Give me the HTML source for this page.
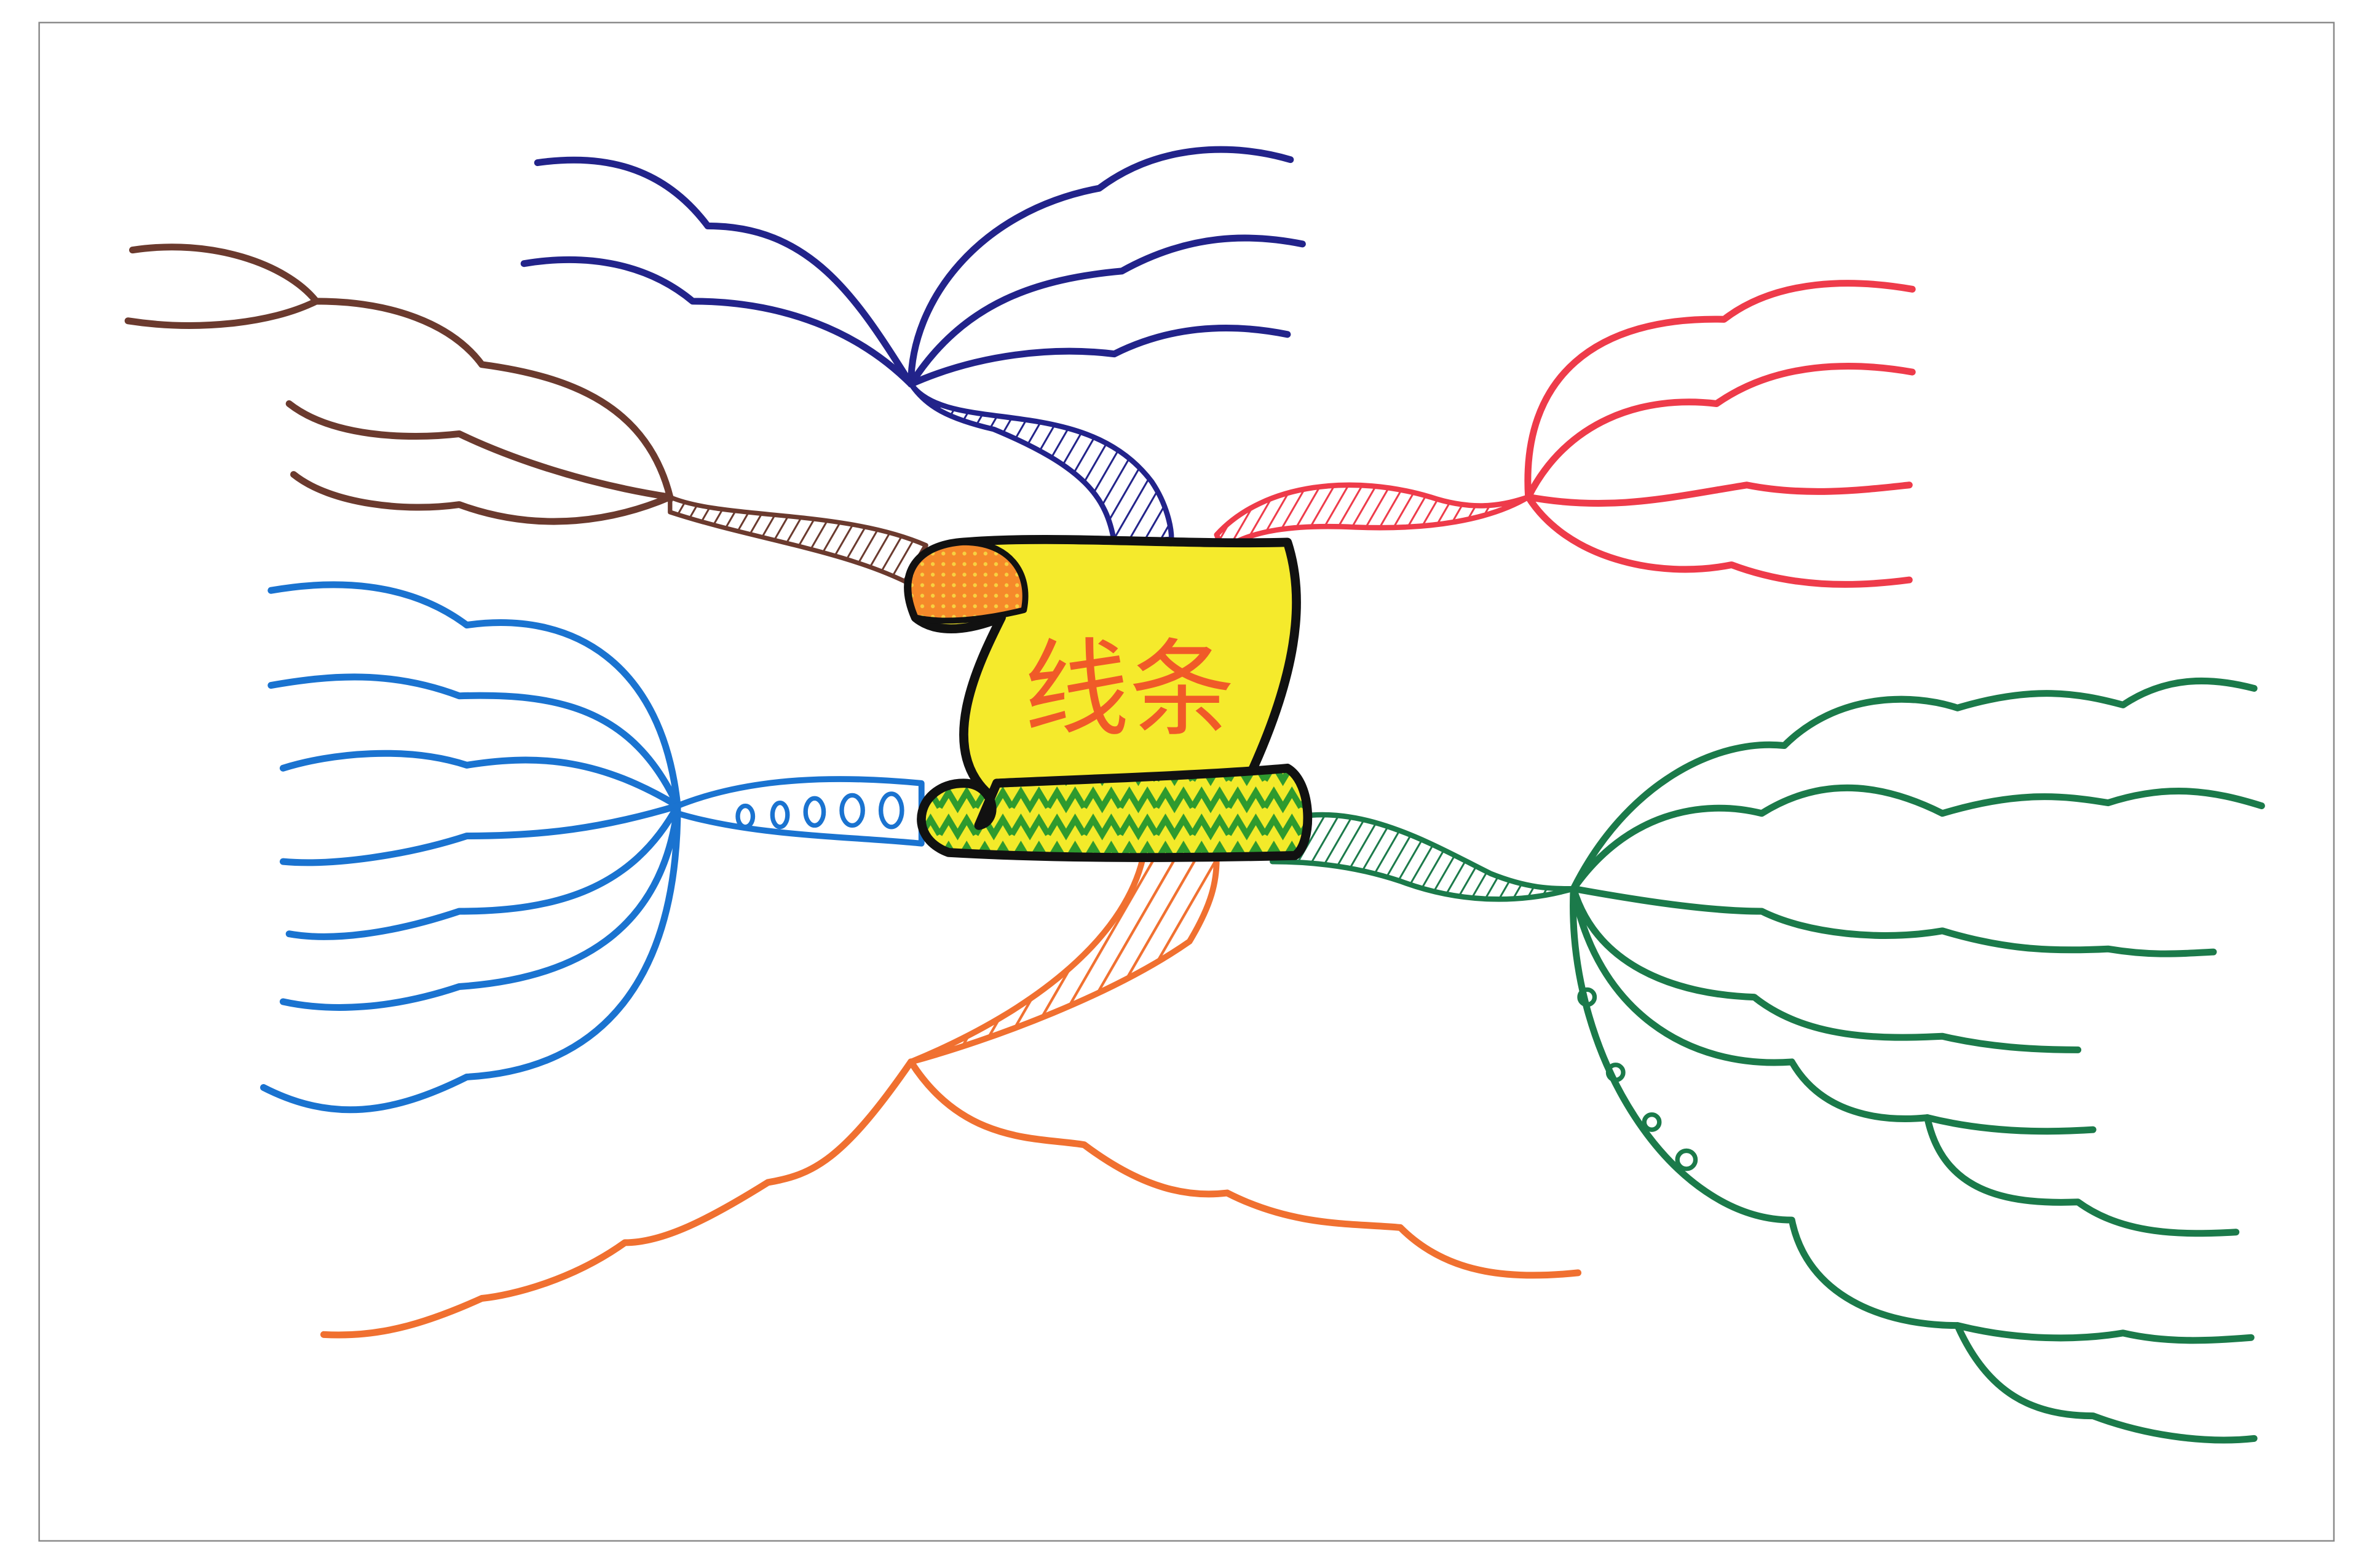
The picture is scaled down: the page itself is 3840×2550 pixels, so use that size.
<!DOCTYPE html>
<html><head><meta charset="utf-8"><style>
html,body{margin:0;padding:0;background:#fff;width:3840px;height:2550px;overflow:hidden}
svg{display:block}
</style></head><body>
<svg width="3840" height="2550" viewBox="0 0 1568 1041" preserveAspectRatio="none" xmlns="http://www.w3.org/2000/svg">
<defs>
<pattern id="hb" width="8" height="8" patternUnits="userSpaceOnUse" patternTransform="rotate(30)"><line x1="0" y1="0" x2="0" y2="8" stroke="#6b3a2e" stroke-width="2.5"/></pattern>
<pattern id="hn" width="9" height="9" patternUnits="userSpaceOnUse" patternTransform="rotate(30)"><line x1="0" y1="0" x2="0" y2="9" stroke="#22238a" stroke-width="2.5"/></pattern>
<pattern id="hr" width="8" height="8" patternUnits="userSpaceOnUse" patternTransform="rotate(30)"><line x1="0" y1="0" x2="0" y2="8" stroke="#ee3b4a" stroke-width="2.5"/></pattern>
<pattern id="hg" width="8" height="8" patternUnits="userSpaceOnUse" patternTransform="rotate(30)"><line x1="0" y1="0" x2="0" y2="8" stroke="#1b7a4a" stroke-width="2.5"/></pattern>
<pattern id="ho" width="12" height="12" patternUnits="userSpaceOnUse" patternTransform="rotate(30)"><line x1="0" y1="0" x2="0" y2="12" stroke="#f07030" stroke-width="3.5"/></pattern>
<pattern id="zig" width="24" height="18" patternUnits="userSpaceOnUse"><rect width="24" height="18" fill="#f3ea2a"/><path d="M0,14 L6,4 L12,14 L18,4 L24,14" fill="none" stroke="#2e9a2e" stroke-width="4"/></pattern>
<pattern id="dots" width="7" height="7" patternUnits="userSpaceOnUse"><rect width="7" height="7" fill="#f5892a"/><circle cx="3.5" cy="3.5" r="1.3" fill="#f7d040"/></pattern>
</defs>
<rect x="26" y="15" width="1524" height="1008" fill="#fff" stroke="#888" stroke-width="1"/>
<g fill="none" stroke-linecap="round" stroke-linejoin="round" stroke-width="4.5">
<g stroke="#6b3a2e">
<path d="M445,330 C480,345 560,338 615,362 L605,388 C560,365 500,358 445,340 Z" fill="url(#hb)" stroke-width="3"/>
<path d="M445,330 C430,270 380,250 320,242 C300,215 260,200 210,200 C180,215 130,220 85,213"/>
<path d="M210,200 C190,175 140,158 88,166"/>
<path d="M445,330 C380,320 330,300 305,288 C270,292 220,290 192,268"/>
<path d="M445,330 C410,345 360,355 305,335 C270,340 220,335 195,315"/>
</g>
<g stroke="#22238a">
<path d="M605,255 C630,290 720,260 765,320 C775,335 778,350 778,358 L740,360 C735,330 720,310 660,285 C630,278 615,270 605,255 Z" fill="url(#hn)" stroke-width="3.5"/>
<path d="M605,255 C605,200 650,140 730,125 C770,95 820,95 857,106"/>
<path d="M605,255 C640,200 690,185 745,180 C790,155 830,155 865,162"/>
<path d="M605,255 C650,235 700,230 740,235 C780,215 820,215 855,222"/>
<path d="M605,255 C570,200 540,150 470,150 C440,110 400,102 357,108"/>
<path d="M605,255 C570,220 520,200 460,200 C430,175 390,168 348,175"/>
</g>
<g stroke="#ee3b4a">
<path d="M808,355 C840,320 900,315 950,330 C980,340 1000,335 1015,330 C990,345 950,352 900,350 C860,348 830,352 812,365 Z" fill="url(#hr)" stroke-width="3.5"/>
<path d="M1015,330 C1010,250 1060,210 1145,212 C1180,185 1230,185 1270,192"/>
<path d="M1015,330 C1040,280 1090,262 1140,268 C1180,240 1230,240 1270,247"/>
<path d="M1015,330 C1070,340 1110,330 1160,322 C1200,330 1240,325 1268,322"/>
<path d="M1015,330 C1040,370 1100,385 1150,375 C1190,390 1230,390 1268,385"/>
</g>
<g stroke="#1a73d0">
<path d="M450,535 C500,515 560,515 612,520 L612,560 C560,555 500,555 450,540 Z" fill="#fff" stroke-width="4"/>
<g stroke-width="3"><ellipse cx="495" cy="542" rx="5" ry="7"/><ellipse cx="518" cy="541" rx="5" ry="8"/><ellipse cx="541" cy="539" rx="6" ry="9"/><ellipse cx="566" cy="538" rx="7" ry="10"/><ellipse cx="592" cy="538" rx="7" ry="11"/></g>
<path d="M450,535 C440,440 380,405 310,415 C270,385 220,385 180,392"/>
<path d="M450,535 C420,470 370,460 305,462 C260,445 220,448 180,455"/>
<path d="M450,535 C400,505 360,500 310,508 C270,495 220,500 188,510"/>
<path d="M450,535 C400,550 360,555 310,555 C270,568 220,575 188,572"/>
<path d="M450,535 C420,590 370,605 305,605 C260,620 220,625 192,620"/>
<path d="M450,535 C440,620 380,650 305,655 C260,670 220,672 188,665"/>
<path d="M450,535 C450,650 400,710 310,715 C260,740 220,745 175,722"/>
</g>
<g stroke="#1b7a4a">
<path d="M850,545 C900,530 950,560 990,580 C1015,590 1030,590 1045,590 C1010,600 970,600 930,585 C900,575 870,572 845,572 Z" fill="url(#hg)" stroke-width="3.5"/>
<path d="M1045,590 C1080,520 1140,490 1185,495 C1220,460 1270,460 1300,470 C1350,455 1380,460 1410,468 C1440,448 1470,450 1497,457"/>
<path d="M1045,590 C1080,540 1130,530 1170,540 C1210,515 1250,520 1290,540 C1340,525 1370,528 1400,533 C1440,520 1470,525 1502,535"/>
<path d="M1045,590 C1100,600 1140,605 1170,605 C1200,620 1250,625 1290,618 C1330,630 1360,632 1400,630 C1430,635 1450,633 1470,632"/>
<path d="M1045,590 C1060,640 1110,660 1165,662 C1200,690 1250,690 1290,688 C1320,695 1350,697 1380,697"/>
<path d="M1045,590 C1060,670 1120,710 1190,705 C1210,740 1250,745 1280,742 C1320,752 1360,752 1390,750"/>
<path d="M1280,742 C1290,790 1330,800 1380,798 C1410,820 1450,820 1485,818"/>
<path d="M1045,590 C1040,700 1110,810 1190,810 C1200,860 1250,880 1300,880 C1340,890 1380,890 1410,885 C1440,892 1470,890 1495,888"/>
<path d="M1300,880 C1320,925 1350,940 1390,940 C1430,955 1470,958 1497,955"/>
<g stroke-width="3"><circle cx="1054" cy="662" r="5"/><circle cx="1073" cy="712" r="5"/><circle cx="1097" cy="745" r="5"/><circle cx="1120" cy="770" r="6"/></g>
</g>
<g stroke="#f07030">
<path d="M760,565 C750,620 690,670 605,705 C660,690 740,660 790,625 C805,600 808,585 808,570 Z" fill="url(#ho)" stroke-width="4"/>
<path d="M605,705 C560,770 540,780 510,785 C470,810 440,825 415,825 C380,850 340,860 320,862 C280,880 250,888 215,886"/>
<path d="M605,705 C640,760 690,755 720,760 C760,790 790,795 815,792 C860,815 900,812 930,815 C960,845 1000,850 1048,845"/>
</g>
</g>
<g stroke="#111" stroke-width="6" stroke-linejoin="round">
<path d="M640,360 C700,355 780,362 855,360 C868,400 860,450 830,515 C800,520 700,525 660,530 C620,500 650,440 665,410 C640,420 620,420 608,410 C595,380 610,362 640,360 Z" fill="#f5ea2c"/>
<path d="M608,410 C595,380 610,362 640,360 C670,360 685,380 680,405 C660,410 630,415 608,410 Z" fill="url(#dots)" stroke-width="4"/>
<path d="M662,520 C700,518 800,515 855,510 C872,520 872,560 860,568 C780,570 700,570 630,566 C600,555 610,520 640,520 C660,520 665,545 650,548 Z" fill="url(#zig)"/>
<text x="750" y="482" text-anchor="middle" font-family="'Liberation Sans','Noto Sans CJK SC',sans-serif" font-size="70" fill="#f05a28" stroke="none">线条</text>
</g>
</svg>
</body></html>
